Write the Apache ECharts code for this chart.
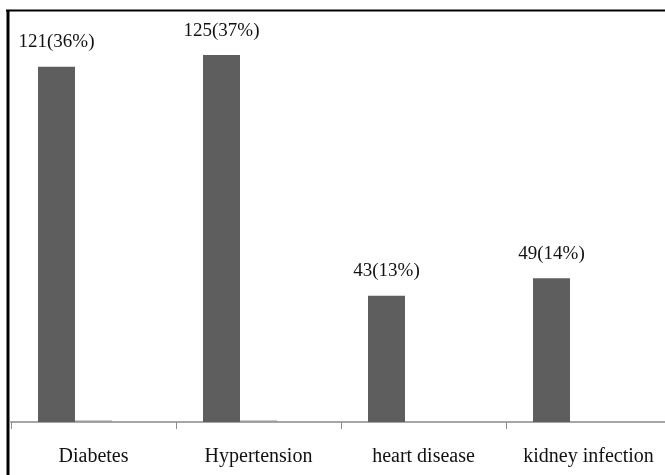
<!DOCTYPE html>
<html>
<head>
<meta charset="utf-8">
<script src="https://cdn.jsdelivr.net/npm/echarts@6/dist/echarts.min.js"></script>
<style>
  html, body { margin: 0; padding: 0; background: #fff; overflow: hidden; }
  #chart { width: 672px; height: 475px; }
</style>
</head>
<body>
<div id="chart"></div>
<script>
// Comorbidity counts and their share of patients
const categories = ['Diabetes', 'Hypertension', 'heart disease', 'kidney infection'];
const counts = [121, 125, 43, 49];
const percents = [36, 37, 13, 14];
const secondSeries = [0.5, 0.5, 0, 0];
const thirdSeries = [0, 0, 0, 0];

const serif = '"Liberation Serif", "Times New Roman", serif';

const chart = echarts.init(document.getElementById('chart'), null, { renderer: 'canvas' });

chart.setOption({
  animation: false,
  backgroundColor: '#fff',
  // the last category runs a few pixels past the visible frame
  grid: { left: 11, top: 11, right: 1, bottom: 53, containLabel: false },
  xAxis: {
    type: 'category',
    data: categories,
    boundaryGap: true,
    axisLine: { show: true, lineStyle: { color: '#a6a6a6', width: 2 } },
    axisTick: { show: true, alignWithLabel: false, interval: 0, length: 7, lineStyle: { color: '#8c8c8c', width: 1 } },
    axisLabel: { interval: 0, color: '#111', fontFamily: serif, fontSize: 20, margin: 25 }
  },
  yAxis: {
    type: 'value',
    min: 0,
    max: 140,
    show: false,
    splitLine: { show: false }
  },
  series: [
    {
      type: 'bar',
      data: counts,
      barWidth: 37,
      barGap: '0%',
      itemStyle: { color: '#5e5e5e' },
      label: {
        show: true,
        position: 'top',
        distance: 15,
        color: '#111',
        fontFamily: serif,
        fontSize: 19,
        formatter: p => counts[p.dataIndex] + '(' + percents[p.dataIndex] + '%)'
      }
    },
    {
      type: 'bar',
      data: secondSeries,
      barWidth: 37,
      barGap: '0%',
      itemStyle: { color: '#9a9a9a' }
    },
    {
      type: 'bar',
      data: thirdSeries,
      barWidth: 37,
      barGap: '0%',
      itemStyle: { color: '#cfcfcf' }
    }
  ],
  graphic: [
    { type: 'line', shape: { x1: 6, y1: 10.5, x2: 672, y2: 10.5 }, style: { stroke: '#000', lineWidth: 2 }, z: 100 },
    { type: 'line', shape: { x1: 8, y1: 10, x2: 8, y2: 475 }, style: { stroke: '#000', lineWidth: 3 }, z: 100 }
  ]
});
</script>
</body>
</html>
